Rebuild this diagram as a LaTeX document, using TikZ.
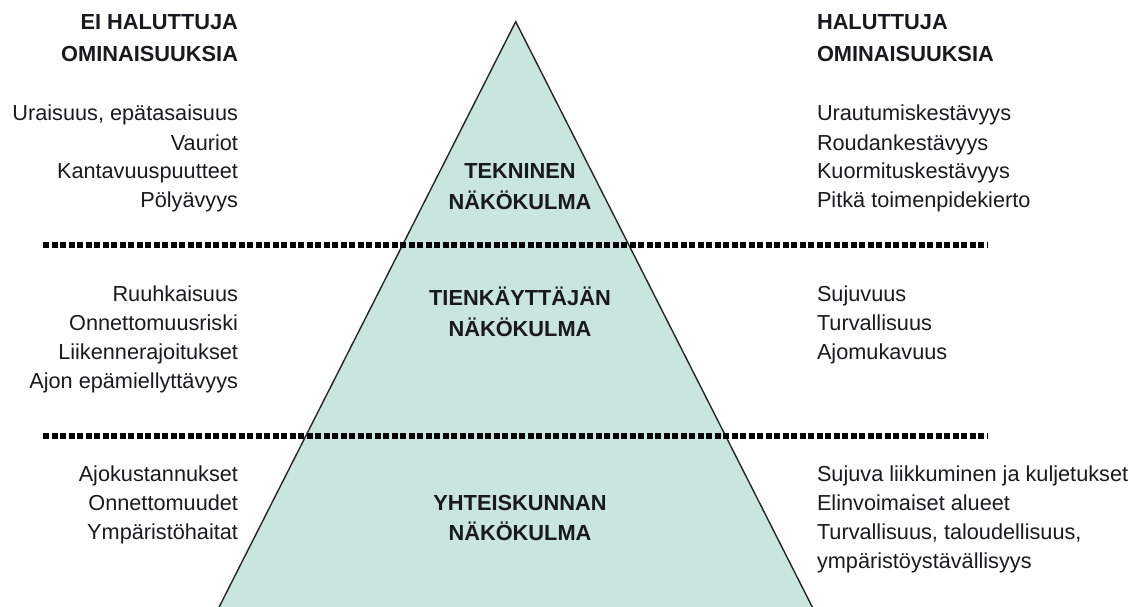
\documentclass[tikz,border=0pt]{standalone}
\usepackage{fontspec}
\setmainfont{Liberation Sans}
\definecolor{pyramid}{RGB}{200,230,222}
\definecolor{ink}{RGB}{25,25,30}
\begin{document}
\begin{tikzpicture}[x=1pt,y=-1pt,
  every node/.style={inner sep=0pt,outer sep=0pt,text=ink,font=\fontsize{21.7}{26}\selectfont},
  leftitem/.style={anchor=base east},
  rightitem/.style={anchor=base west},
  head/.style={font=\fontsize{21.8}{26}\selectfont\bfseries},
  midlabel/.style={anchor=base,font=\fontsize{21.8}{26}\selectfont\bfseries},
  divider/.style={line width=6pt,dash pattern=on 6pt off 2.5pt,black}]
\useasboundingbox (0,0) rectangle (1142,607);

% pyramid, cut off at the lower edge
\begin{scope}
  \clip (0,0) rectangle (1142,607);
  \coordinate (apex) at (515.7,21.7);
  \coordinate (bl) at (210,625);
  \coordinate (br) at (821.4,625);
  \filldraw[fill=pyramid,draw=black!85,line width=1.4pt,line join=miter] (apex) -- (bl) -- (br) -- cycle;
\end{scope}

% level dividers
\coordinate (d1l) at (43,245);  \coordinate (d1r) at (987,245);
\coordinate (d2l) at (43,436);  \coordinate (d2r) at (987,436);
\draw[divider] (d1l) -- (d1r);
\draw[divider] (d2l) -- (d2r);

% column headings
\node[head,leftitem] (hl1) at (238,30) {EI HALUTTUJA};
\node[head,leftitem] (hl2) at (238,62) {OMINAISUUKSIA};
\node[head,rightitem] (hr1) at (817,30) {HALUTTUJA};
\node[head,rightitem] (hr2) at (817,62) {OMINAISUUKSIA};

% technical level
\node[leftitem] (a1) at (238,121) {Uraisuus, epätasaisuus};
\node[leftitem] (a2) at (238,150) {Vauriot};
\node[leftitem] (a3) at (238,178) {Kantavuuspuutteet};
\node[leftitem] (a4) at (238,207) {Pölyävyys};
\node[midlabel] (m1a) at (520,178) {TEKNINEN};
\node[midlabel] (m1b) at (520,209) {NÄKÖKULMA};
\node[rightitem] (b1) at (817,121) {Urautumiskestävyys};
\node[rightitem] (b2) at (817,150) {Roudankestävyys};
\node[rightitem] (b3) at (817,178) {Kuormituskestävyys};
\node[rightitem] (b4) at (817,207) {Pitkä toimenpidekierto};

% road user level
\node[leftitem] (c1) at (238,301) {Ruuhkaisuus};
\node[leftitem] (c2) at (238,330) {Onnettomuusriski};
\node[leftitem] (c3) at (238,359) {Liikennerajoitukset};
\node[leftitem] (c4) at (238,388) {Ajon epämiellyttävyys};
\node[midlabel] (m2a) at (520,305) {TIENKÄYTTÄJÄN};
\node[midlabel] (m2b) at (520,336) {NÄKÖKULMA};
\node[rightitem] (e1) at (817,301) {Sujuvuus};
\node[rightitem] (e2) at (817,330) {Turvallisuus};
\node[rightitem] (e3) at (817,359) {Ajomukavuus};

% society level
\node[leftitem] (f1) at (238,481) {Ajokustannukset};
\node[leftitem] (f2) at (238,510) {Onnettomuudet};
\node[leftitem] (f3) at (238,539) {Ympäristöhaitat};
\node[midlabel] (m3a) at (520,510) {YHTEISKUNNAN};
\node[midlabel] (m3b) at (520,540) {NÄKÖKULMA};
\node[rightitem] (g1) at (817,481) {Sujuva liikkuminen ja kuljetukset};
\node[rightitem] (g2) at (817,510) {Elinvoimaiset alueet};
\node[rightitem] (g3) at (817,539) {Turvallisuus, taloudellisuus,};
\node[rightitem] (g4) at (817,568) {ympäristöystävällisyys};
\end{tikzpicture}
\end{document}
